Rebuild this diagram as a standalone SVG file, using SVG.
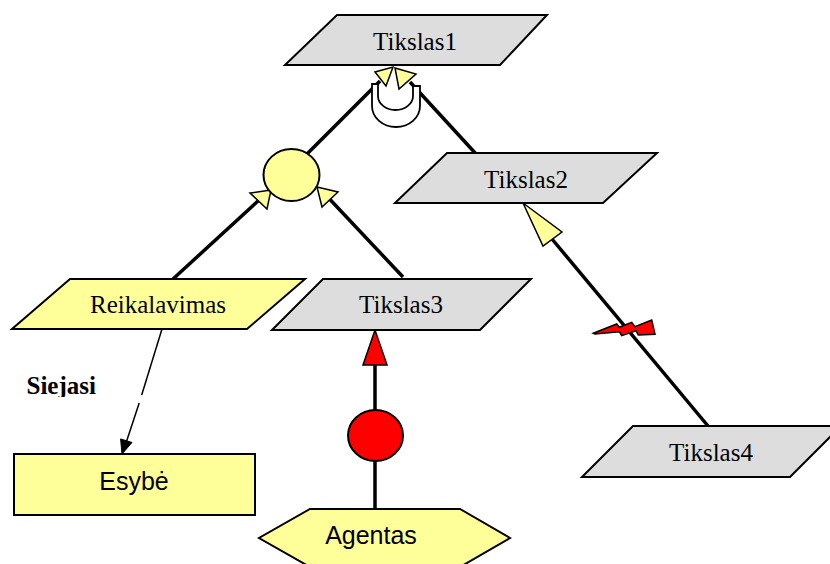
<svg xmlns="http://www.w3.org/2000/svg" width="830" height="564" viewBox="0 0 830 564">
  <style>
    .goal { fill: #dddddd; stroke: #000; stroke-width: 2; }
    .req  { fill: #ffff99; stroke: #000; stroke-width: 2; }
    .link { stroke: #000; stroke-width: 3.5; fill: none; }
    .thin { stroke: #000; stroke-width: 1.5; fill: none; }
    .head { fill: #ffff99; stroke: #000; stroke-width: 1.5; stroke-linejoin: miter; }
    .redhead { fill: #ff0000; stroke: #000; stroke-width: 1.5; }
    .serif { font-family: "Liberation Serif", "Times New Roman", serif; font-size: 25px; fill: #000; text-anchor: middle; }
    .sans { font-family: "Liberation Sans", Arial, sans-serif; font-size: 25px; fill: #000; text-anchor: middle; }
  </style>
  <defs>
    <clipPath id="labelClip">
      <rect x="0" y="360" width="140" height="37"/>
    </clipPath>
  </defs>

  <rect width="830" height="564" fill="#ffffff"/>

  <g id="connectors">
    <!-- AND-circle to Tikslas1 -->
    <line class="link" x1="300" y1="161" x2="380" y2="81"/>
    <!-- Tikslas2 to Tikslas1 -->
    <line class="link" x1="477" y1="155" x2="410" y2="82"/>
    <!-- Reikalavimas to AND-circle -->
    <line class="link" x1="173" y1="279" x2="258" y2="201"/>
    <!-- Tikslas3 to AND-circle -->
    <line class="link" x1="403" y1="277" x2="330" y2="199.5"/>
    <!-- Tikslas4 to Tikslas2 -->
    <line class="link" x1="708" y1="426" x2="552" y2="239"/>
    <!-- Agentas to Tikslas3 -->
    <line class="link" x1="375" y1="509" x2="375" y2="364"/>
    <!-- Reikalavimas to Esybe (broken at the label) -->
    <line class="thin" x1="162" y1="329" x2="141.7" y2="395"/>
    <line class="thin" x1="139.2" y1="403" x2="126" y2="443"/>
    <polygon fill="#000" stroke="#000" stroke-width="1" points="122,454 120.6,438.9 132,442.5"/>

    <!-- alternative-refinement loop symbol -->
    <path fill="#ffffff" stroke="#000" stroke-width="1.8" d="M372,84 H378 V96 A17.5,14 0 0 0 413,96 V86 H420 V106 A24,21 0 0 1 372,106 Z"/>

    <!-- arrowheads -->
    <polygon class="head" points="393,67 386,86 375,72"/>
    <polygon class="head" points="395,68 416,74 399,89"/>
    <polygon class="head" points="271,190 250,193 267,209"/>
    <polygon class="head" points="317,187 338,192 322,207"/>
    <polygon class="head" points="523,203 562,232 543,246"/>
    <polygon class="redhead" points="375,330 363,365 387,365"/>

    <!-- conflict bolt -->
    <polygon fill="#ff0000" stroke="#000" stroke-width="1.5" stroke-linejoin="miter" points="593.3,333.3 616.7,324 619.3,327.3 631.7,322.3 635,326.7 651.7,320 655,334.3 638.3,335 636,330.7 621.7,335.7 619.3,331.7 595,334"/>
  </g>

  <g id="tikslas1">
    <polygon class="goal" points="337,15 547,15 500,65 285,65"/>
    <text class="serif" x="415" y="50">Tikslas1</text>
  </g>

  <g id="tikslas2">
    <polygon class="goal" points="447,153 657,153 603,203 395,203"/>
    <text class="serif" x="526" y="188">Tikslas2</text>
  </g>

  <g id="tikslas3">
    <polygon class="goal" points="323,279 531,279 480,330 272,330"/>
    <text class="serif" x="401" y="313">Tikslas3</text>
  </g>

  <g id="tikslas4">
    <polygon class="goal" points="633,426 841,426 790,477 582,477"/>
    <text class="serif" x="711" y="461">Tikslas4</text>
  </g>

  <g id="and-node">
    <ellipse class="req" cx="291.5" cy="175" rx="28" ry="26"/>
  </g>

  <g id="reikalavimas">
    <polygon class="req" points="70,279 305,279 247,329 12,329"/>
    <text class="serif" x="158" y="313">Reikalavimas</text>
  </g>

  <g id="esybe">
    <rect class="req" x="14" y="454" width="241" height="61"/>
    <text class="sans" x="134" y="490">Esybė</text>
  </g>

  <g id="agent-link">
    <ellipse fill="#ff0000" stroke="#000" stroke-width="2" cx="375.5" cy="435.5" rx="27.5" ry="25.5"/>
  </g>

  <g id="agentas">
    <polygon class="req" points="310,509 460,509 510,538 460,567 310,567 259,538"/>
    <text class="sans" x="371" y="544">Agentas</text>
  </g>

  <g id="siejasi-label">
    <text x="26.5" y="394" clip-path="url(#labelClip)" font-family="Liberation Serif, 'Times New Roman', serif" font-size="25" font-weight="bold" fill="#000">Siejasi</text>
  </g>
</svg>
